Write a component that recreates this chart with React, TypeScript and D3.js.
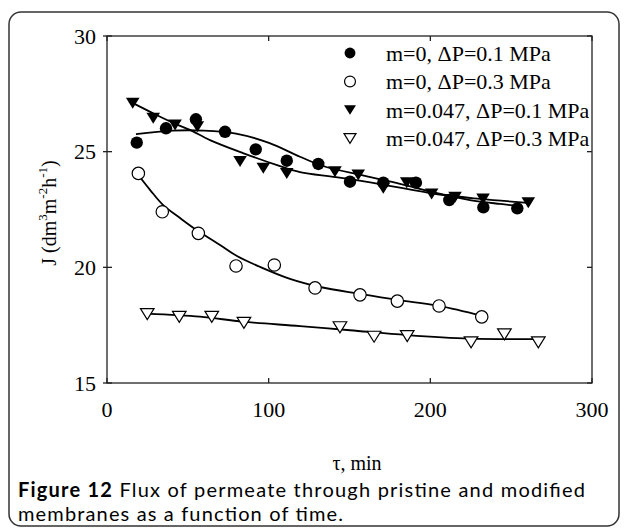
import React from "react";
import * as d3 from "d3";

// ---------- data ----------
const xTicks = [0, 100, 200, 300];
const yTicks = [15, 20, 25, 30];

const seriesLabels = [
  "m=0, ΔP=0.1 MPa",
  "m=0, ΔP=0.3 MPa",
  "m=0.047, ΔP=0.1 MPa",
  "m=0.047, ΔP=0.3 MPa",
];

// m=0, ΔP=0.1 MPa (filled circles)
const s1: [number, number][] = [
  [18.4, 25.39], [36.5, 26.01], [55.0, 26.4], [73.0, 25.86], [92.0, 25.1],
  [111.2, 24.61], [130.7, 24.47], [150.3, 23.7], [170.9, 23.66], [191.1, 23.66],
  [211.7, 22.91], [232.8, 22.59], [253.8, 22.55],
];
// m=0, ΔP=0.3 MPa (open circles)
const s2: [number, number][] = [
  [19.4, 24.06], [34.2, 22.4], [56.5, 21.47], [79.8, 20.06], [103.5, 20.1],
  [128.7, 19.11], [156.5, 18.81], [179.6, 18.54], [205.4, 18.33], [231.8, 17.86],
];
// m=0.047, ΔP=0.1 MPa (filled triangles)
const s3: [number, number][] = [
  [15.9, 27.09], [28.6, 26.44], [42.1, 26.15], [55.9, 26.08], [82.3, 24.57],
  [96.7, 24.28], [111.2, 24.06], [141.0, 24.13], [155.4, 23.99], [170.9, 23.42],
  [185.4, 23.66], [200.8, 23.17], [215.3, 23.03], [232.6, 22.95], [260.6, 22.79],
];
// m=0.047, ΔP=0.3 MPa (open triangles)
const s4: [number, number][] = [
  [24.9, 17.98], [44.7, 17.86], [64.8, 17.86], [84.7, 17.6], [144.1, 17.41],
  [165.2, 17.0], [185.7, 17.03], [225.2, 16.76], [245.8, 17.1], [266.8, 16.76],
];

// fitted curves
const fit1: [number, number][] = [
  [17.9, 25.76], [40.2, 25.91], [60.0, 25.91], [79.8, 25.78], [100.2, 25.38],
  [119.4, 24.78], [133.6, 24.38], [159.6, 23.95], [181.2, 23.61], [203.5, 23.22],
  [224.5, 22.91], [243.1, 22.74], [254.8, 22.65],
];
const fit2: [number, number][] = [
  [19.2, 24.0], [26.6, 23.35], [34.6, 22.7], [45.2, 22.13], [56.3, 21.57],
  [69.9, 20.97], [80.4, 20.49], [94.6, 20.02], [113.2, 19.5], [131.8, 19.15],
  [156.5, 18.85], [179.4, 18.59], [205.4, 18.33], [231.9, 17.9],
];
const fit3: [number, number][] = [
  [16.1, 27.1], [29.7, 26.62], [42.7, 26.19], [51.3, 25.94], [63.7, 25.5],
  [84.1, 24.94], [105.2, 24.42], [119.4, 24.12], [141.6, 23.9], [168.9, 23.6],
  [203.5, 23.17], [230.7, 22.96], [261.6, 22.78],
];
const fit4: [number, number][] = [
  [24.7, 18.0], [57.5, 17.87], [84.1, 17.65], [119.4, 17.46], [150.3, 17.28],
  [185.6, 17.07], [224.5, 16.92], [266.6, 16.9],
];

const captionBold = "Figure 12";
const captionLine1 = " Flux of permeate through pristine and modified";
const captionLine2 = "membranes as a function of time.";

// ---------- layout ----------
const W = 629;
const H = 529;
const L = 107, R = 592, T = 36, B = 383;
const serif = "'Liberation Serif', 'Times New Roman', serif";
const sans = "Lato, 'Open Sans', sans-serif";

const x = d3.scaleLinear().domain([0, 300]).range([L, R]);
const y = d3.scaleLinear().domain([15, 30]).range([B, T]);

const line = d3
  .line<[number, number]>()
  .x((d) => x(d[0]))
  .y((d) => y(d[1]))
  .curve(d3.curveCatmullRom);

type Kind = "fc" | "oc" | "ft" | "ot";

function Marker({ cx, cy, kind, s = 1 }: { cx: number; cy: number; kind: Kind; s?: number }) {
  if (kind === "fc") return <circle cx={cx} cy={cy} r={6.2 * s} fill="#000" />;
  if (kind === "oc")
    return <circle cx={cx} cy={cy} r={6.2 * s} fill="#fff" stroke="#000" strokeWidth={1.2} />;
  const w = 6.8 * s;
  const h = 11 * s;
  const p = `M${cx - w},${cy - h / 2}L${cx + w},${cy - h / 2}L${cx},${cy + h / 2}Z`;
  if (kind === "ft") return <path d={p} fill="#000" />;
  return <path d={p} fill="#fff" stroke="#000" strokeWidth={1.2} strokeLinejoin="miter" />;
}

export default function App() {
  const series: { data: [number, number][]; fit: [number, number][]; kind: Kind }[] = [
    { data: s1, fit: fit1, kind: "fc" },
    { data: s2, fit: fit2, kind: "oc" },
    { data: s3, fit: fit3, kind: "ft" },
    { data: s4, fit: fit4, kind: "ot" },
  ];
  const legendKinds: Kind[] = ["fc", "oc", "ft", "ot"];
  const legendY = [53, 81.5, 110, 138.5];

  return (
    <svg
      width={W}
      height={H}
      style={{ position: "absolute", left: 0, top: 0, background: "#fff" }}
    >
      <rect x={0} y={0} width={W} height={H} fill="#fff" />
      {/* outer frame */}
      <rect x={9} y={12} width={610} height={514} rx={12} fill="none" stroke="#333" strokeWidth={1.5} />

      {/* fits */}
      {series.map((s, i) => (
        <path key={"f" + i} d={line(s.fit) || ""} fill="none" stroke="#000" strokeWidth={1.8} />
      ))}
      {/* markers */}
      {series.map((s, i) =>
        s.data.map((d, j) => <Marker key={i + "-" + j} cx={x(d[0])} cy={y(d[1])} kind={s.kind} />)
      )}

      {/* axes box */}
      <rect x={L} y={T} width={R - L} height={B - T} fill="none" stroke="#222" strokeWidth={1.3} />
      {yTicks.map((t) => (
        <g key={"y" + t}>
          <line x1={L - 4} x2={L + 5} y1={y(t)} y2={y(t)} stroke="#222" strokeWidth={1.3} />
          <line x1={R - 5} x2={R} y1={y(t)} y2={y(t)} stroke="#222" strokeWidth={1.3} />
          <text
            x={96}
            y={y(t)}
            textAnchor="end"
            dominantBaseline="central"
            fontFamily={serif}
            fontSize={22}
            fill="#000"
          >
            {t}
          </text>
        </g>
      ))}
      {xTicks.map((t) => (
        <g key={"x" + t}>
          <line x1={x(t)} x2={x(t)} y1={B} y2={B - 5} stroke="#222" strokeWidth={1.3} />
          <line x1={x(t)} x2={x(t)} y1={T} y2={T + 5} stroke="#222" strokeWidth={1.3} />
          <text
            x={x(t)}
            y={409}
            textAnchor="middle"
            dominantBaseline="central"
            fontFamily={serif}
            fontSize={22}
            fill="#000"
          >
            {t}
          </text>
        </g>
      ))}

      {/* axis titles */}
      <text
        x={357}
        y={463}
        textAnchor="middle"
        dominantBaseline="central"
        fontFamily={serif}
        fontSize={20}
        fill="#000"
      >
        τ, min
      </text>
      <text
        transform={`translate(49,213) rotate(-90)`}
        textAnchor="middle"
        dominantBaseline="central"
        fontFamily={serif}
        fontSize={20}
        fill="#000"
      >
        J (dm<tspan fontSize={13} dy={-7}>3</tspan>
        <tspan dy={7}>m</tspan>
        <tspan fontSize={13} dy={-7}>-2</tspan>
        <tspan dy={7}>h</tspan>
        <tspan fontSize={13} dy={-7}>-1</tspan>
        <tspan dy={7}>)</tspan>
      </text>

      {/* legend */}
      {seriesLabels.map((lab, i) => (
        <g key={"l" + i}>
          <Marker cx={350} cy={legendY[i]} kind={legendKinds[i]} s={0.88} />
          <text
            x={386}
            y={legendY[i]}
            dominantBaseline="central"
            fontFamily={serif}
            fontSize={22}
            fill="#000"
          >
            {lab}
          </text>
        </g>
      ))}

      {/* caption */}
      <text
        x={18}
        y={497}
        fontFamily={sans}
        fontSize={20}
        fill="#000"
        textLength={567}
        lengthAdjust="spacing"
      >
        <tspan fontWeight="bold">{captionBold}</tspan>
        <tspan>{captionLine1}</tspan>
      </text>
      <text
        x={18}
        y={521}
        fontFamily={sans}
        fontSize={20}
        fill="#000"
        textLength={325}
        lengthAdjust="spacing"
      >
        {captionLine2}
      </text>
    </svg>
  );
}
